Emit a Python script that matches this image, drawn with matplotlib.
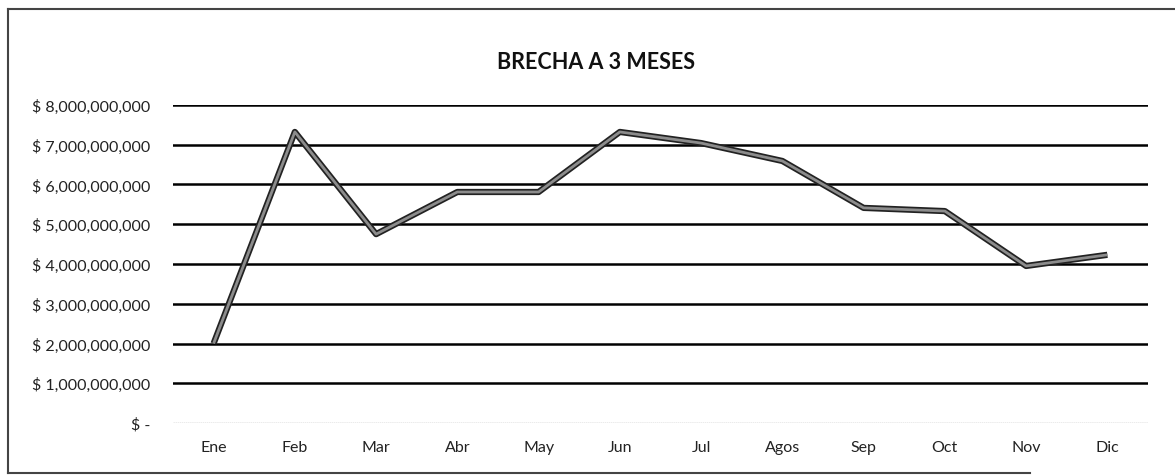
import matplotlib.pyplot as plt
from matplotlib.lines import Line2D
from matplotlib.ticker import FuncFormatter

meses = ["Ene", "Feb", "Mar", "Abr", "May", "Jun", "Jul", "Agos", "Sep", "Oct", "Nov", "Dic"]
brecha = [2.00e9, 7.32e9, 4.75e9, 5.81e9, 5.81e9, 7.32e9, 7.04e9, 6.59e9, 5.41e9, 5.33e9, 3.95e9, 4.23e9]
ticks_y = [0, 1e9, 2e9, 3e9, 4e9, 5e9, 6e9, 7e9, 8e9]

plt.rcParams["font.family"] = ["Lato", "DejaVu Sans"]

fig = plt.figure(figsize=(11.75, 4.77), dpi=100)
ax = fig.add_axes([0.1472, 0.111, 0.8298, 0.667])

x = range(len(meses))
# gridlines
for t in ticks_y[1:]:
    ax.axhline(t, color="black", lw=1.8, zorder=1)
ax.axhline(0, color="#999999", lw=1, ls=(0, (1, 0.5)), zorder=1)

# line with dark edge
ax.plot(x, brecha, color="#222222", lw=4.5, solid_joinstyle="round", solid_capstyle="butt", zorder=3)
ax.plot(x, brecha, color="#8c8c8c", lw=2, solid_joinstyle="round", solid_capstyle="butt", zorder=4)

ax.set_xlim(-0.5, len(meses) - 0.5)
ax.set_ylim(0, 8e9)
ax.set_yticks(ticks_y)
ax.yaxis.set_major_formatter(FuncFormatter(lambda v, p: "$ -" if v == 0 else f"$ {v:,.0f}"))
ax.set_xticks(list(x))
ax.set_xticklabels(meses)
ax.tick_params(axis="both", length=0, labelsize=11.5, colors="#222222")
ax.tick_params(axis="y", pad=16)
ax.tick_params(axis="x", pad=12)
for s in ax.spines.values():
    s.set_visible(False)

fig.text(0.507, 0.868, "BRECHA A 3 MESES", ha="center", va="center",
         fontsize=15.5, fontweight="bold", color="#111111")

# outer chart border (left, top, bottom)
W, H = 1175, 477
fig.add_artist(Line2D([8 / W, 8 / W], [1 - 10 / H, 1 - 474 / H], color="#444444", lw=1.5))
fig.add_artist(Line2D([8 / W, 1.0], [1 - 10 / H, 1 - 10 / H], color="#444444", lw=1.5))
fig.add_artist(Line2D([8 / W, 1030 / W], [1 - 474 / H, 1 - 474 / H], color="#444444", lw=1.5))

fig.savefig("out.png", dpi=100)
